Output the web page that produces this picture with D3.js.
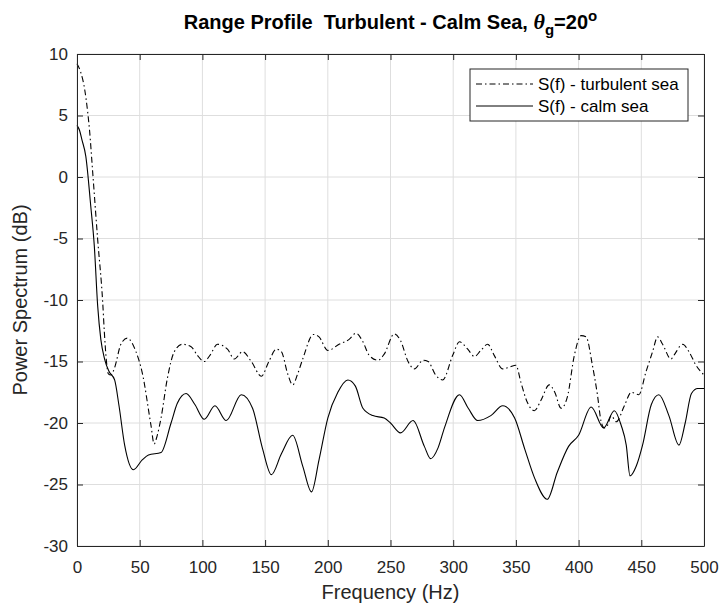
<!DOCTYPE html>
<html>
<head>
<meta charset="utf-8">
<script src="https://cdn.jsdelivr.net/npm/d3@7"></script>
<style>
  body { margin: 0; background: #fff; }
  svg { display: block; font-family: "Liberation Sans", Arial, sans-serif; }
</style>
</head>
<body>
<svg id="chart" width="721" height="605"></svg>
<script>
// frequency samples (Hz) and levels (dB)
let turbFreq = [0, 3, 6, 8.5, 10, 12.5, 16.5, 20.5, 21.8, 23.5, 25, 27, 30, 35, 40, 47, 52, 59, 61.5, 64, 67, 72, 77.6, 84, 91, 96, 101.5, 106, 112, 120, 125.5, 132, 139, 147, 153, 159, 163, 168, 172, 176, 180, 188.5, 193, 200, 209, 217, 222.5, 228, 233, 240, 245, 253, 258, 264, 269, 276, 280, 286, 291.6, 299.6, 305, 311.6, 317, 322, 327.5, 332.7, 339.5, 345, 350, 354, 359, 364.7, 370, 376.6, 381, 386, 391, 396.6, 402, 406, 411, 415, 418, 420.5, 423, 426, 430, 436.5, 442, 448, 453.7, 459, 463, 467, 473.7, 476, 483, 488, 493.6, 500]
let turbValues = [9.2, 8.5, 7.2, 5.3, 3.8, 0.4, -5.1, -10.2, -12.6, -15.0, -16.0, -16.1, -15.5, -13.6, -13.1, -14.2, -15.9, -20.2, -21.7, -21.0, -19.6, -16.4, -14.2, -13.6, -13.8, -14.5, -15.0, -14.5, -13.6, -14.0, -14.8, -14.2, -15.0, -16.2, -15.0, -14.0, -14.2, -16.0, -16.9, -16.0, -14.8, -12.8, -13.0, -14.1, -13.6, -13.2, -12.7, -13.4, -14.5, -14.9, -14.4, -12.75, -13.3, -15.0, -15.6, -14.9, -15.0, -16.1, -16.5, -14.5, -13.4, -14.0, -14.6, -14.1, -13.6, -14.5, -15.6, -15.45, -15.3, -16.7, -18.3, -19.0, -18.15, -16.9, -17.5, -18.8, -17.9, -14.5, -12.9, -13.0, -15.3, -17.7, -19.9, -20.4, -20.2, -19.4, -19.9, -18.6, -17.5, -17.7, -15.85, -14.2, -13.0, -13.6, -14.8, -14.5, -13.6, -14.2, -15.3, -16.1]

let calmFreq = [0, 2, 4, 7, 11, 13.8, 16.5, 19, 22, 25.5, 30, 33.5, 38, 45, 52, 57, 67, 75, 80, 87, 94, 101.5, 110, 119, 131, 140, 148, 155, 163, 172, 180, 187, 193, 200, 208, 216, 222, 228, 236, 245, 250, 258, 268, 277, 282, 288, 293, 305, 312, 319.5, 330, 339.5, 349, 357, 365, 375, 383, 392, 400, 410, 420, 428.5, 434, 438, 441, 446, 451, 458, 464, 472, 480, 485, 490, 495, 500]
let calmValues = [4.2, 3.8, 3.0, 1.7, -2.4, -5.6, -10.5, -13.2, -14.8, -15.8, -16.5, -18.6, -21.8, -23.8, -23.0, -22.6, -22.4, -20.0, -18.4, -17.6, -18.5, -19.7, -18.6, -19.8, -17.7, -18.8, -22.1, -24.2, -22.5, -21.0, -23.5, -25.6, -23.0, -19.6, -17.5, -16.5, -17.0, -18.8, -19.4, -19.6, -20.0, -20.8, -19.8, -21.9, -22.9, -22.0, -20.4, -17.7, -18.8, -19.8, -19.4, -18.6, -19.6, -22.1, -24.5, -26.2, -24.0, -21.9, -21.0, -18.7, -20.4, -19.0, -20.2, -21.8, -24.3, -23.5, -21.8, -18.5, -17.7, -19.4, -21.8, -20.0, -17.6, -17.2, -17.2]

let xTicks = [0, 50, 100, 150, 200, 250, 300, 350, 400, 450, 500]
let yTicks = [10, 5, 0, -5, -10, -15, -20, -25, -30]
let seriesNames = ["S(f) - turbulent sea", "S(f) - calm sea"]

let plotLeft = 77, plotRight = 704, plotTop = 54, plotBottom = 546
let axisColor = "#262626"
let dashDot = "6,3,1.5,3"

let svg = d3.select("#chart")

let xScale = d3.scaleLinear().domain([0, 500]).range([plotLeft, plotRight])
let yScale = d3.scaleLinear().domain([-30, 10]).range([plotBottom, plotTop])

// grid
svg.append("g")
    .selectAll("line")
    .data(xTicks)
    .enter()
    .append("line")
    .attr("x1", (d) => xScale(d))
    .attr("x2", (d) => xScale(d))
    .attr("y1", plotTop)
    .attr("y2", plotBottom)
    .attr("stroke", "#dedede")
svg.append("g")
    .selectAll("line")
    .data(yTicks)
    .enter()
    .append("line")
    .attr("x1", plotLeft)
    .attr("x2", plotRight)
    .attr("y1", (d) => yScale(d))
    .attr("y2", (d) => yScale(d))
    .attr("stroke", "#dedede")

// curves
let makeLine = (freq) => d3.line()
    .x((d, i) => xScale(freq[i]))
    .y((d) => yScale(d))
    .curve(d3.curveMonotoneX)

svg.append("path")
    .attr("d", makeLine(turbFreq)(turbValues))
    .attr("fill", "none")
    .attr("stroke", "#000")
    .attr("stroke-width", 1.1)
    .attr("stroke-dasharray", dashDot)

svg.append("path")
    .attr("d", makeLine(calmFreq)(calmValues))
    .attr("fill", "none")
    .attr("stroke", "#000")
    .attr("stroke-width", 1.1)

// axes (box with inward ticks on all four sides)
let fmt = (d) => String(d)
let bottomAxis = d3.axisBottom(xScale).tickValues(xTicks).tickSizeInner(-6).tickSizeOuter(0).tickPadding(15).tickFormat(fmt)
let topAxis = d3.axisTop(xScale).tickValues(xTicks).tickSizeInner(-6).tickSizeOuter(0).tickFormat("")
let leftAxis = d3.axisLeft(yScale).tickValues(yTicks).tickSizeInner(-6).tickSizeOuter(0).tickPadding(9).tickFormat(fmt)
let rightAxis = d3.axisRight(yScale).tickValues(yTicks).tickSizeInner(-6).tickSizeOuter(0).tickFormat("")

let styleAxis = (g) => {
    g.select(".domain").attr("stroke", axisColor)
    g.selectAll(".tick line").attr("stroke", axisColor)
    g.selectAll(".tick text")
        .attr("fill", axisColor)
        .style("font-size", "17px")
        .style("font-family", "'Liberation Sans', Arial, sans-serif")
}

svg.append("g").attr("transform", `translate(0,${plotBottom})`).call(bottomAxis).call(styleAxis)
svg.append("g").attr("transform", `translate(0,${plotTop})`).call(topAxis).call(styleAxis)
svg.append("g").attr("transform", `translate(${plotLeft},0)`).call(leftAxis).call(styleAxis)
svg.append("g").attr("transform", `translate(${plotRight},0)`).call(rightAxis).call(styleAxis)

// labels
svg.append("text")
    .attr("x", (plotLeft + plotRight) / 2)
    .attr("y", 599)
    .attr("text-anchor", "middle")
    .attr("fill", axisColor)
    .style("font-size", "20px")
    .text("Frequency (Hz)")

svg.append("text")
    .attr("transform", `translate(27,${(plotTop + plotBottom) / 2}) rotate(-90)`)
    .attr("text-anchor", "middle")
    .attr("fill", axisColor)
    .style("font-size", "20px")
    .text("Power Spectrum (dB)")

let title = svg.append("text")
    .attr("x", (plotLeft + plotRight) / 2)
    .attr("y", 29)
    .attr("text-anchor", "middle")
    .attr("fill", "#000")
    .style("font-size", "20px")
    .style("font-weight", "bold")
    .style("white-space", "pre")
title.append("tspan").text("Range Profile  Turbulent - Calm Sea, ")
title.append("tspan")
    .style("font-family", "'Liberation Serif', 'Times New Roman', serif")
    .style("font-style", "italic")
    .style("font-size", "22px")
    .text("θ")
title.append("tspan").attr("dy", 6).style("font-size", "15px").text("g")
title.append("tspan").attr("dy", -6).text("=20")
title.append("tspan").attr("dy", -8).style("font-size", "15px").text("o")

// legend
let legend = svg.append("g")
legend.append("rect")
    .attr("x", 470)
    .attr("y", 69)
    .attr("width", 218)
    .attr("height", 52)
    .attr("fill", "#fff")
    .attr("stroke", axisColor)

let legendRows = legend.selectAll("g")
    .data(seriesNames)
    .enter()
    .append("g")
    .attr("transform", (d, i) => `translate(0,${84 + i * 22})`)

legendRows.append("line")
    .attr("x1", 476)
    .attr("x2", 533)
    .attr("y1", 0)
    .attr("y2", 0)
    .attr("stroke", "#000")
    .attr("stroke-dasharray", (d, i) => i === 0 ? dashDot : null)

legendRows.append("text")
    .attr("x", 538)
    .attr("y", 6)
    .attr("fill", "#000")
    .style("font-size", "17px")
    .text((d) => d)
</script>
</body>
</html>
